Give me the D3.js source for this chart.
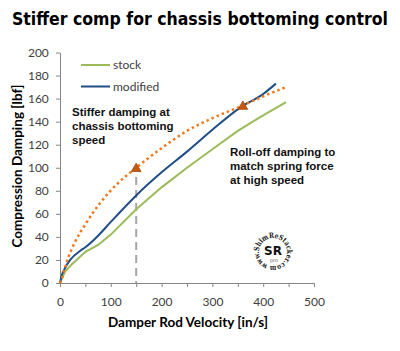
<!DOCTYPE html>
<html>
<head>
<meta charset="utf-8">
<style>
    body { margin: 0; background: #fff; }
    .axis path, .axis line { stroke: #868686; }
    .axis text { fill: #404040; font-family: Lato, "Open Sans", sans-serif; font-size: 12px; }
    .note { font-family: "Liberation Sans", Arial, sans-serif; font-weight: bold; font-size: 11.5px; fill: #111; }
</style>
</head>
<body>
<svg id="chart"></svg>
<script src="https://cdn.jsdelivr.net/npm/d3@7"></script>
<script>
    let width = 400,
        height = 351

    // velocity [in/s], damping [lbf]
    let stockV = [0, 4, 10, 23, 40, 50, 75, 100, 150, 200, 250, 300, 350, 394, 445]
    let stockF = [0, 4, 10, 16, 23, 27, 33, 42, 64, 83, 100, 116, 132, 144, 157]
    let modV = [0, 3, 10, 20, 40, 50, 75, 100, 150, 200, 250, 300, 354, 400, 425]
    let modF = [0, 6, 13, 20, 28, 31, 41, 53, 76, 96, 114, 133, 152, 164, 173]
    let targetV = [0, 3, 13, 30, 50, 80, 115, 150, 200, 250, 300, 360, 400, 445]
    let targetF = [0, 3, 18, 36, 51, 70, 87, 100, 117, 132, 143, 154, 162, 170]
    let markerV = [150, 360]
    let markerF = [100, 154]
    let xTicks = [0, 50, 100, 150, 200, 250, 300, 350, 400, 450, 500]
    let yTicks = [0, 20, 40, 60, 80, 100, 120, 140, 160, 180, 200]

    let svg = d3.select("#chart").attr("width", width).attr("height", height)

    let x = d3.scaleLinear().domain([0, 500]).range([60, 314])
    let y = d3.scaleLinear().domain([0, 200]).range([283, 52.5])

    // title
    svg.append("text")
        .attr("x", 12).attr("y", 25)
        .attr("textLength", 376).attr("lengthAdjust", "spacingAndGlyphs")
        .style("font-family", "'DejaVu Sans', sans-serif")
        .style("font-weight", "900").style("font-size", "17.5px")
        .text("Stiffer comp for chassis bottoming control")

    // axes
    svg.append("g").attr("class", "axis")
        .attr("transform", "translate(0,283)")
        .call(d3.axisBottom(x).tickValues(xTicks).tickSize(4).tickSizeOuter(0)
            .tickFormat(d => d % 100 === 0 ? d : ""))
        .selectAll("text").attr("dy", "1.3em")

    svg.append("g").attr("class", "axis")
        .attr("transform", "translate(60,0)")
        .call(d3.axisLeft(y).tickValues(yTicks).tickSize(4).tickSizeOuter(0))
        .selectAll("text").attr("dx", "-0.35em")

    svg.append("text")
        .attr("x", 188).attr("y", 327).attr("text-anchor", "middle")
        .style("font-family", "Lato, sans-serif").style("font-weight", "bold").style("font-size", "13.5px")
        .text("Damper Rod Velocity [in/s]")

    svg.append("text")
        .attr("transform", "translate(22,166) rotate(-90)").attr("text-anchor", "middle")
        .style("font-family", "Lato, sans-serif").style("font-weight", "bold").style("font-size", "13.5px")
        .text("Compression Damping [lbf]")

    // dashed guide at bottoming speed
    svg.append("line")
        .attr("x1", x(150)).attr("x2", x(150))
        .attr("y1", y(92)).attr("y2", y(0))
        .attr("stroke", "#A6A6A6").attr("stroke-width", 2)
        .attr("stroke-dasharray", "8,5")

    let line = d3.line().x(d => x(d[0])).y(d => y(d[1]))

    svg.append("path")
        .datum(d3.zip(stockV, stockF))
        .attr("d", line).attr("fill", "none")
        .attr("stroke", "#9BBB59").attr("stroke-width", 2)

    svg.append("path")
        .datum(d3.zip(modV, modF))
        .attr("d", line.curve(d3.curveMonotoneX)).attr("fill", "none")
        .attr("stroke", "#1F4E86").attr("stroke-width", 2)

    svg.append("path")
        .datum(d3.zip(targetV, targetF))
        .attr("d", line.curve(d3.curveMonotoneX)).attr("fill", "none")
        .attr("stroke", "#EE7A1E").attr("stroke-width", 2.5)
        .attr("stroke-dasharray", "2.5,3")

    svg.selectAll(".marker")
        .data(d3.zip(markerV, markerF))
        .enter().append("path")
        .attr("class", "marker")
        .attr("d", d3.symbol(d3.symbolTriangle, 40))
        .attr("transform", d => `translate(${x(d[0])},${y(d[1]) + 1})`)
        .attr("fill", "#C55A11").attr("stroke", "#9E480E").attr("stroke-width", 0.8)

    // legend
    let legend = [["stock", "#9BBB59"], ["modified", "#1F4E86"]]
    legend.forEach((d, i) => {
        let ly = 65 + i * 21.5
        svg.append("line").attr("x1", 81).attr("x2", 110).attr("y1", ly).attr("y2", ly)
            .attr("stroke", d[1]).attr("stroke-width", 2)
        svg.append("text").attr("x", 113).attr("y", ly + 4)
            .style("font-family", "Lato, sans-serif").style("font-size", "12px").attr("fill", "#404040")
            .text(d[0])
    })

    // annotations
    let note1 = ["Stiffer damping at", "chassis bottoming", "speed"]
    note1.forEach((t, i) => {
        svg.append("text").attr("class", "note").attr("x", 72).attr("y", 116 + i * 14).text(t)
    })
    let note2 = ["Roll-off damping to", "match spring force", "at high speed"]
    note2.forEach((t, i) => {
        svg.append("text").attr("class", "note").attr("x", 230).attr("y", 156 + i * 14).text(t)
    })

    // logo stamp
    let logo = svg.append("g").attr("transform", "translate(273,252)")
    let r = 14
    let a0 = Math.PI * 0.62
    let ring = d3.path()
    ring.arc(0, 0, r, a0, a0 + Math.PI * 2 - 0.05)
    logo.append("path").attr("id", "ring").attr("d", ring.toString()).attr("fill", "none")
    logo.append("text")
        .style("font-family", "'DejaVu Serif', serif").style("font-weight", "bold").style("font-size", "7.5px").attr("fill", "#222")
        .append("textPath").attr("href", "#ring")
        .attr("textLength", 2 * Math.PI * r - 3).attr("lengthAdjust", "spacingAndGlyphs")
        .text("www.ShimReStacker.com")
    logo.append("text").attr("x", 0).attr("y", 3).attr("text-anchor", "middle")
        .style("font-family", "'DejaVu Sans', sans-serif").style("font-weight", "bold").style("font-size", "12px")
        .attr("fill", "#111").text("SR")
    logo.append("text").attr("x", 1).attr("y", 10).attr("text-anchor", "middle")
        .style("font-family", "'DejaVu Sans', sans-serif").style("font-size", "5px")
        .attr("fill", "#666").text("pro")
</script>
</body>
</html>
